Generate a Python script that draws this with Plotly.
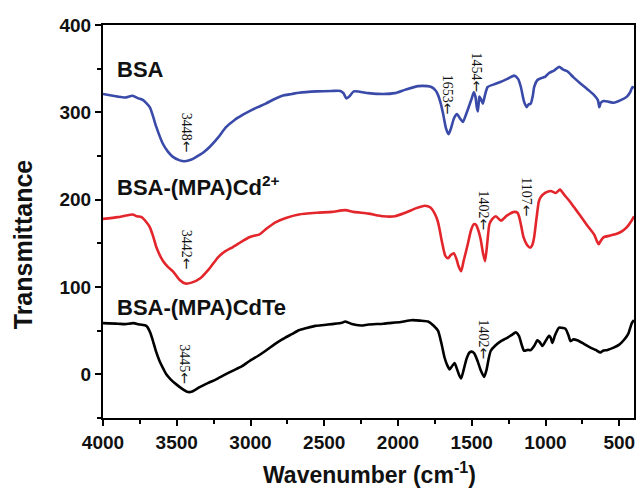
import plotly.graph_objects as go

# ---- data ----
bsa_x = [4000, 3900, 3850, 3800, 3760, 3728, 3683, 3660, 3638, 3594, 3560, 3526, 3480, 3447, 3400, 3368, 3320, 3279,
         3220, 3166, 3110, 3054, 3000, 2950, 2897, 2840, 2785, 2720, 2672, 2550, 2450, 2390, 2370, 2350, 2330, 2300,
         2200, 2100, 2021, 1950, 1863, 1800, 1774, 1745, 1729, 1710, 1695, 1675, 1657, 1640, 1621, 1600, 1580, 1560,
         1540, 1527, 1500, 1486, 1475, 1466, 1459, 1452, 1448, 1435, 1425, 1410, 1392, 1350, 1302, 1250, 1212, 1185,
         1167, 1145, 1127, 1115, 1100, 1085, 1077, 1055, 1032, 1000, 976, 940, 908, 880, 852, 810, 763, 720, 672, 645,
         635, 625, 605, 570, 538, 490, 448, 426, 410, 400]
bsa_y = [321, 318, 317, 319, 316, 314, 306, 295, 283, 264, 255, 249, 245, 244, 246, 249, 254, 260,
         271, 283, 291, 297, 302, 306, 310, 315, 319, 321, 322.5, 324, 324.5, 324.5, 322, 316, 318, 324,
         322, 321, 322, 326, 330, 330, 329, 325, 320, 310, 299, 282, 275, 282, 293, 298, 293, 289,
         297, 303, 316, 323, 318, 306, 301, 312, 318, 314, 310, 320, 329, 332, 335, 339, 342, 338,
         329, 312, 306, 309, 310, 320, 329, 337, 339, 341, 345, 348, 352, 349, 347, 340, 333, 327, 320, 314,
         306, 311, 313, 312, 311, 314, 318, 323, 329, 328]

cd_x = [4000, 3900, 3800, 3770, 3739, 3700, 3683, 3660, 3638, 3594, 3560, 3526, 3480, 3442, 3400, 3340, 3279, 3220,
        3170, 3122, 3060, 3009, 2970, 2942, 2890, 2831, 2760, 2672, 2550, 2448, 2358, 2300, 2200, 2100, 2021, 1950,
        1880, 1818, 1780, 1751, 1730, 1717, 1700, 1680, 1661, 1640, 1621, 1600, 1590, 1572, 1555, 1540, 1527, 1505,
        1486, 1470, 1459, 1440, 1425, 1410, 1395, 1380, 1360, 1336, 1302, 1260, 1212, 1190, 1178, 1165, 1149, 1125,
        1104, 1090, 1077, 1060, 1045, 1032, 1000, 965, 931, 902, 870, 840, 807, 770, 717, 670, 650, 639, 625, 605,
        560, 516, 480, 448, 420, 400]
cd_y = [178, 180, 183, 181, 180, 173, 168.5, 158, 145.5, 130, 123, 118, 108, 104, 105, 110, 121, 134,
        141, 145.5, 152, 157, 159, 160, 167, 174, 179, 183, 185, 186, 188, 186, 184, 181, 181, 185,
        190, 193, 191, 184, 175, 165, 150, 136, 133, 137, 138.6, 130, 124, 118, 130, 140, 149, 165,
        172, 171, 166.7, 155, 140, 129.5, 150, 172, 178, 181, 176, 182, 186, 185, 180, 170, 157, 148,
        145, 148, 157, 180, 198, 203, 208, 210, 207.6, 211.5, 205, 199, 191.5, 183, 170.5, 160, 152, 149, 153, 157,
        159, 161, 164, 168.5, 175, 181]

cdte_x = [4000, 3900, 3850, 3796, 3750, 3706, 3680, 3661, 3640, 3616, 3590, 3571, 3540, 3503, 3460, 3430, 3400, 3348,
          3290, 3236, 3180, 3122, 3060, 3009, 2950, 2897, 2840, 2785, 2720, 2672, 2620, 2560, 2500, 2448, 2380, 2358,
          2340, 2313, 2250, 2200, 2100, 2066, 1980, 1909, 1850, 1796, 1760, 1729, 1705, 1684, 1665, 1650, 1635, 1616,
          1600, 1585, 1572, 1555, 1535, 1515, 1500, 1483, 1460, 1440, 1416, 1400, 1385, 1371, 1340, 1302, 1280, 1257,
          1230, 1201, 1180, 1160, 1145, 1120, 1100, 1075, 1055, 1040, 1021, 1000, 976, 965, 953, 935, 908, 880, 864,
          845, 830, 810, 785, 740, 695, 660, 628, 610, 580, 538, 500, 470, 440, 414, 400]
cdte_y = [58.6, 58, 57.5, 58.6, 57, 55.5, 48, 38, 26, 15, 6, 0, -6, -11.5, -17, -20, -20, -15,
          -10, -6, -1, 4, 9, 15, 21, 27, 34, 40, 46, 50.5, 53, 55.5, 56.5, 57.5, 59, 60.5,
          59.5, 57.5, 56, 57, 58, 58.6, 60, 62, 61.5, 60.5, 56, 50, 35, 19, 10, 5.7, 9, 13,
          6, -1, -4.6, 5, 18, 25, 26, 24, 15, 5, -3, 5, 18, 27, 33, 38, 40, 42,
          45, 48, 44, 33, 27, 28, 27.7, 33, 39, 37, 32.5, 38, 44, 42, 36, 45, 53.5, 53, 52,
          45, 38, 40, 39, 35, 30.6, 28, 25, 27, 28, 30.6, 34, 39, 46, 59, 62]

series_names = ["BSA", "BSA-(MPA)Cd<sup>2+</sup>", "BSA-(MPA)CdTe"]
series_colors = ["#3a4aa8", "#e3262c", "#000000"]
series_label_y = [349, 216, 76]

peak_labels = ["3448", "1653", "1454", "3442", "1402", "1107", "3445", "1402"]
peak_x = [3432, 1661, 1466, 3432, 1414, 1127, 3441, 1414]
peak_y = [277, 320, 346, 143, 187, 203, 11, 39.5]

x_ticks = [4000, 3500, 3000, 2500, 2000, 1500, 1000, 500]
y_ticks = [0, 100, 200, 300, 400]

fig = go.Figure()
for xs, ys, name, col in zip([bsa_x, cd_x, cdte_x], [bsa_y, cd_y, cdte_y], series_names, series_colors):
    fig.add_trace(go.Scatter(x=xs, y=ys, mode="lines", name=name,
                             line=dict(color=col, width=2.6, shape="spline", smoothing=0.6),
                             showlegend=False))

for name, ly in zip(series_names, series_label_y):
    fig.add_annotation(x=3920, y=ly, text=name, showarrow=False, xanchor="left", yanchor="middle",
                       font=dict(family="Liberation Sans", size=22, color="#111", weight="bold"))

for t, px, py in zip(peak_labels, peak_x, peak_y):
    fig.add_annotation(x=px, y=py,
                       text=t + "<span style='font-family:DejaVu Sans'>←</span>",
                       showarrow=False, textangle=90,
                       font=dict(family="Liberation Serif", size=14, color="#111"))

# axis titles
fig.add_annotation(xref="paper", yref="paper", x=0.501, y=-0.14, text="Wavenumber (cm<sup>-1</sup>)",
                   showarrow=False, xanchor="center", yanchor="middle",
                   font=dict(family="Liberation Sans", size=23, color="#111", weight="bold"))
fig.add_annotation(xref="paper", yref="paper", x=-0.150, y=0.443, text="Transmittance", textangle=-90,
                   showarrow=False, xanchor="center", yanchor="middle",
                   font=dict(family="Liberation Sans", size=25, color="#111", weight="bold"))

axis_common = dict(showline=True, linecolor="black", linewidth=2, mirror=True, ticks="outside",
                   tickwidth=2, ticklen=6, tickcolor="black", showgrid=False, zeroline=False,
                   tickfont=dict(family="Liberation Sans", size=19, color="#111", weight="bold"))

fig.update_xaxes(range=[4000, 400], tickvals=x_ticks, ticktext=[str(v) for v in x_ticks],
                 minor=dict(ticks="outside", dtick=250, tick0=0, ticklen=4, tickwidth=2, tickcolor="black"),
                 **axis_common)
fig.update_yaxes(range=[-50, 400], tickvals=y_ticks, ticktext=[str(v) for v in y_ticks],
                 minor=dict(ticks="outside", dtick=50, tick0=0, ticklen=4, tickwidth=2, tickcolor="black"),
                 **axis_common)

fig.update_layout(width=640, height=488, margin=dict(l=103, r=4, t=25, b=70),
                  plot_bgcolor="white", paper_bgcolor="white")

fig.write_html("out.html", config={"displayModeBar": False},
               post_script="document.body.style.margin='0';document.body.style.overflow='hidden';")
